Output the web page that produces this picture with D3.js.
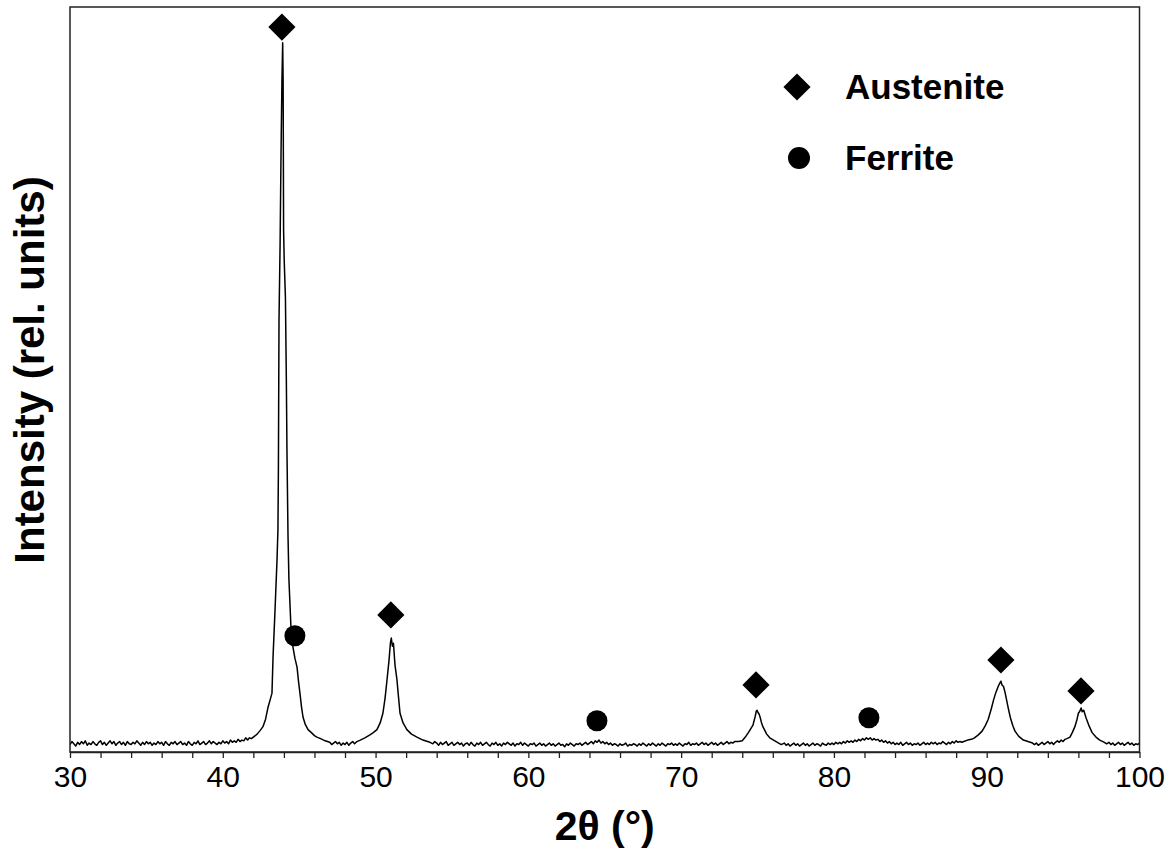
<!DOCTYPE html>
<html>
<head>
<meta charset="utf-8">
<script src="https://cdn.jsdelivr.net/npm/d3@7"></script>
<style>
	body { margin: 0; background: #fff; }
	svg { display: block; font-family: "Liberation Sans", Arial, sans-serif; }
</style>
</head>
<body>
<script>
// XRD scan: [2theta (deg), intensity (rel. units)]
var scan = [
	[30.0,1.0],[30.125,1.4],[30.25,1.1],[30.375,0.8],[30.5,1.3],[30.625,1.0],[30.75,1.4],[30.875,1.1],
	[31.0,1.5],[31.125,0.9],[31.25,1.2],[31.375,1.0],[31.5,1.4],[31.625,1.1],[31.75,0.9],[31.875,1.3],
	[32.0,1.5],[32.125,1.0],[32.25,1.3],[32.375,0.9],[32.5,1.2],[32.625,1.5],[32.75,1.1],[32.875,1.4],
	[33.0,0.9],[33.125,1.2],[33.25,1.4],[33.375,1.0],[33.5,1.3],[33.625,0.9],[33.75,1.4],[33.875,1.1],
	[34.0,1.0],[34.125,1.3],[34.25,1.1],[34.375,1.5],[34.5,1.2],[34.625,0.9],[34.75,1.3],[34.875,1.0],
	[35.0,1.4],[35.125,1.1],[35.25,1.3],[35.375,0.9],[35.5,1.2],[35.625,1.0],[35.75,1.4],[35.875,1.1],
	[36.0,1.3],[36.125,0.9],[36.25,1.4],[36.375,1.1],[36.5,0.9],[36.625,1.3],[36.75,1.1],[36.875,1.4],
	[37.0,1.0],[37.125,1.2],[37.25,1.4],[37.375,1.0],[37.5,1.2],[37.625,0.9],[37.75,1.4],[37.875,1.1],
	[38.0,0.9],[38.125,1.3],[38.25,1.1],[38.375,1.5],[38.5,1.0],[38.625,1.2],[38.75,1.4],[38.875,1.0],
	[39.0,1.2],[39.125,1.5],[39.25,1.1],[39.375,1.4],[39.5,1.2],[39.625,1.0],[39.75,1.3],[39.875,1.1],
	[40.0,1.5],[40.125,1.2],[40.25,1.4],[40.375,1.1],[40.5,1.6],[40.625,1.3],[40.75,1.5],[40.875,1.3],
	[41.0,1.7],[41.125,1.4],[41.25,1.6],[41.375,1.5],[41.5,1.9],[41.625,1.6],[41.75,1.9],[41.875,1.8],
	[42.0,2.0],[42.25,2.4],[42.45,2.9],[42.63,3.4],[42.8,4.4],[42.96,6.0],[43.1,7.0],[43.22,7.9],
	[43.29,12.8],[43.42,19.1],[43.55,25.8],[43.61,29.8],[43.64,38.0],[43.68,58.0],[43.75,68.0],
	[43.81,80.0],[43.87,90.0],[43.92,95.2],[43.95,90.0],[43.98,70.0],[44.02,66.0],[44.1,61.0],
	[44.16,50.0],[44.2,40.5],[44.27,28.9],[44.33,23.1],[44.46,16.8],[44.59,14.1],[44.72,12.6],
	[44.86,11.4],[44.95,9.6],[45.05,7.9],[45.15,6.1],[45.25,4.7],[45.4,3.7],[45.58,3.0],[45.8,2.6],
	[46.0,2.2],[46.16,2.0],[46.4,1.8],[46.7,1.5],
	[47.0,1.3],[47.125,1.0],[47.25,1.2],[47.375,1.4],[47.5,1.1],[47.625,1.3],[47.75,0.9],[47.875,1.2],
	[48.0,1.0],[48.125,1.3],[48.25,0.9],[48.375,1.2],[48.5,1.4],[48.625,1.1],[48.78,1.4],[49.0,1.6],
	[49.3,1.9],[49.63,2.3],[49.85,2.6],[50.09,3.0],[50.3,3.9],[50.48,5.2],[50.62,7.2],[50.75,9.7],
	[50.88,12.3],[50.97,14.6],[51.03,15.3],[51.1,14.2],[51.17,14.6],[51.27,11.7],[51.4,9.7],
	[51.5,7.4],[51.6,5.2],[51.8,3.9],[52.05,3.0],[52.35,2.4],[52.71,2.0],[53.1,1.6],[53.56,1.3],
	[53.75,1.1],[53.875,1.4],[54.0,1.2],[54.125,0.9],[54.25,1.3],[54.375,1.0],[54.5,1.2],[54.625,1.4],
	[54.75,0.9],[54.875,1.1],[55.0,1.3],[55.125,0.9],[55.25,1.1],[55.375,1.3],[55.5,1.0],[55.625,1.2],
	[55.75,0.8],[55.875,1.1],[56.0,1.2],[56.125,0.9],[56.25,1.3],[56.375,1.0],[56.5,0.8],[56.625,1.2],
	[56.75,1.0],[56.875,1.3],[57.0,0.9],[57.125,1.1],[57.25,1.3],[57.375,1.0],[57.5,0.8],[57.625,1.2],
	[57.75,1.0],[57.875,1.3],[58.0,0.9],[58.125,1.1],[58.25,0.8],[58.375,1.2],[58.5,1.0],[58.625,1.3],
	[58.75,1.1],[58.875,0.9],[59.0,1.2],[59.125,0.8],[59.25,1.1],[59.375,1.0],[59.5,1.3],[59.625,0.9],
	[59.75,1.2],[59.875,1.0],[60.0,0.8],[60.125,1.1],[60.25,1.0],[60.375,1.2],[60.5,0.8],[60.625,1.0],
	[60.75,1.2],[60.875,0.9],[61.0,1.1],[61.125,0.8],[61.25,1.0],[61.375,1.2],[61.5,0.9],[61.625,1.1],
	[61.75,0.8],[61.875,1.0],[62.0,1.2],[62.125,0.9],[62.25,1.0],[62.375,0.7],[62.5,1.1],[62.625,0.9],
	[62.75,1.2],[62.875,1.0],[63.0,0.8],[63.125,1.1],[63.25,1.0],[63.375,1.2],[63.5,0.9],[63.625,1.1],
	[63.75,1.3],[63.875,1.0],[64.0,1.2],[64.125,1.4],[64.25,1.1],[64.375,1.5],[64.5,1.3],[64.625,1.6],
	[64.75,1.2],[64.875,1.4],[65.0,1.1],[65.125,1.3],[65.25,1.0],[65.375,1.2],[65.5,0.9],[65.625,1.1],
	[65.75,1.0],[65.875,0.8],[66.0,1.1],[66.125,0.9],[66.25,1.0],[66.375,1.2],[66.5,0.8],[66.625,1.0],
	[66.75,0.9],[66.875,1.1],[67.0,1.0],[67.125,0.8],[67.25,1.1],[67.375,0.9],[67.5,1.2],[67.625,1.0],
	[67.75,0.8],[67.875,1.1],[68.0,0.9],[68.125,1.2],[68.25,1.0],[68.375,0.8],[68.5,1.1],[68.625,0.9],
	[68.75,1.2],[68.875,1.0],[69.0,0.8],[69.125,1.1],[69.25,1.0],[69.375,1.2],[69.5,0.9],[69.625,1.1],
	[69.75,0.9],[69.875,1.2],[70.0,1.0],[70.125,0.8],[70.25,1.1],[70.375,1.0],[70.5,1.3],[70.625,0.9],
	[70.75,1.1],[70.875,1.0],[71.0,1.2],[71.125,0.9],[71.25,1.1],[71.375,1.3],[71.5,1.0],[71.625,1.2],
	[71.75,0.9],[71.875,1.1],[72.0,1.3],[72.125,1.0],[72.25,1.2],[72.375,0.9],[72.5,1.1],[72.625,1.3],
	[72.75,1.0],[72.875,1.2],[73.0,1.4],[73.125,1.1],[73.25,1.3],[73.375,1.2],[73.5,1.4],
	[73.75,1.4],[74.0,1.5],[74.2,2.0],[74.4,2.6],[74.55,3.1],[74.7,3.6],[74.85,4.8],[74.92,5.5],
	[74.97,5.6],[75.03,5.3],[75.1,5.1],[75.18,4.6],[75.25,4.0],[75.35,3.4],[75.45,3.0],[75.6,2.4],
	[75.8,1.9],[76.05,1.6],[76.3,1.3],[76.55,1.0],
	[76.75,1.2],[76.875,0.9],[77.0,1.1],[77.125,0.8],[77.25,1.0],[77.375,1.2],[77.5,0.9],[77.625,1.1],
	[77.75,0.8],[77.875,1.0],[78.0,1.2],[78.125,0.9],[78.25,1.1],[78.375,0.8],[78.5,1.0],[78.625,1.2],
	[78.75,0.9],[78.875,1.1],[79.0,1.0],[79.125,0.8],[79.25,1.2],[79.375,1.0],[79.5,0.9],[79.625,1.2],
	[79.75,1.0],[79.875,1.2],[80.0,1.0],[80.125,1.3],[80.25,1.1],[80.375,1.3],[80.5,1.1],[80.625,1.4],
	[80.75,1.2],[80.875,1.5],[81.0,1.3],[81.125,1.5],[81.25,1.3],[81.375,1.6],[81.5,1.4],[81.625,1.7],
	[81.75,1.5],[81.875,1.8],[82.0,1.6],[82.125,1.9],[82.25,1.7],[82.375,1.9],[82.5,1.6],[82.625,1.8],
	[82.75,1.6],[82.875,1.7],[83.0,1.4],[83.125,1.6],[83.25,1.3],[83.375,1.5],[83.5,1.2],[83.625,1.4],
	[83.75,1.1],[83.875,1.3],[84.0,1.0],[84.125,1.2],[84.25,1.0],[84.375,1.3],[84.5,0.9],[84.625,1.1],
	[84.75,1.3],[84.875,1.0],[85.0,1.2],[85.125,0.9],[85.25,1.1],[85.375,1.0],[85.5,1.2],[85.625,0.9],
	[85.75,1.1],[85.875,1.3],[86.0,1.0],[86.125,1.2],[86.25,1.0],[86.375,1.3],[86.5,1.1],[86.625,1.3],
	[86.75,1.0],[86.875,1.2],[87.0,1.1],[87.125,1.4],[87.25,1.2],[87.375,1.0],[87.5,1.3],[87.625,1.1],
	[87.75,1.4],[87.875,1.2],[88.0,1.5],[88.125,1.3],[88.25,1.4],[88.375,1.3],
	[88.5,1.4],[88.75,1.6],[89.0,1.7],[89.2,1.9],[89.45,2.3],[89.7,2.8],[89.9,3.5],[90.1,4.4],
	[90.3,5.8],[90.45,7.0],[90.6,8.0],[90.75,8.8],[90.85,9.2],[90.93,9.5],[91.0,9.0],[91.1,8.8],
	[91.2,8.0],[91.3,7.0],[91.42,5.8],[91.55,4.6],[91.7,3.6],[91.85,2.8],[92.1,2.1],[92.4,1.6],
	[92.7,1.4],
	[93.0,1.2],[93.125,1.0],[93.25,1.2],[93.375,0.9],[93.5,1.1],[93.625,1.3],[93.75,1.0],[93.875,1.2],
	[94.0,1.4],[94.125,1.1],[94.25,1.3],[94.375,1.0],[94.5,1.3],[94.625,1.5],[94.75,1.3],[94.875,1.6],
	[95.0,1.4],[95.125,1.7],[95.25,1.8],
	[95.45,2.0],[95.6,2.6],[95.77,3.4],[95.9,4.3],[96.0,5.2],[96.1,5.5],[96.18,5.9],
	[96.25,5.4],[96.35,5.6],[96.5,4.6],[96.7,3.5],[96.9,2.6],[97.15,2.0],[97.4,1.6],[97.7,1.3],
	[97.85,1.1],[98.0,1.3],[98.125,1.0],[98.25,1.2],[98.375,0.9],[98.5,1.1],[98.625,1.3],[98.75,1.0],
	[98.875,1.2],[99.0,0.9],[99.125,1.1],[99.25,1.3],[99.375,1.0],[99.5,1.2],[99.625,0.9],[99.75,1.1],
	[99.875,1.0],[100.0,1.2]
];

// phase markers: [2theta, marker height]
var austenitePeaks = [[43.87, 97.3], [51.0, 18.4], [74.9, 9.0], [90.93, 12.35], [96.17, 8.2]];
var ferritePeaks = [[44.72, 15.6], [64.49, 4.2], [82.29, 4.6]];

var xTickValues = [30, 32, 34, 36, 38, 40, 42, 44, 46, 48, 50, 52, 54, 56, 58, 60, 62, 64, 66, 68,
	70, 72, 74, 76, 78, 80, 82, 84, 86, 88, 90, 92, 94, 96, 98, 100];
var xTickLabels = [30, 40, 50, 60, 70, 80, 90, 100];
var legendItems = ['Austenite', 'Ferrite'];

var width = 1172, height = 852;
var margin = { top: 7, right: 32.5, bottom: 100, left: 70 };
var plotW = width - margin.left - margin.right;
var plotH = height - margin.top - margin.bottom;

var svg = d3.select('body')
	.append('svg')
	.attr('width', width)
	.attr('height', height);

var x = d3.scaleLinear().domain([30, 100]).range([margin.left, margin.left + plotW]);
var y = d3.scaleLinear().domain([0, 100]).range([margin.top + plotH, margin.top]);

svg.append('clipPath')
	.attr('id', 'plotclip')
	.append('rect')
	.attr('x', margin.left)
	.attr('y', margin.top)
	.attr('width', plotW)
	.attr('height', plotH);

// pattern line
var line = d3.line()
	.x(function(d) { return x(d[0]); })
	.y(function(d) { return y(d[1]); });

svg.append('path')
	.datum(scan)
	.attr('clip-path', 'url(#plotclip)')
	.attr('fill', 'none')
	.attr('stroke', '#000')
	.attr('stroke-width', 1.5)
	.attr('stroke-linejoin', 'round')
	.attr('d', line);

// frame
svg.append('rect')
	.attr('x', margin.left)
	.attr('y', margin.top)
	.attr('width', plotW)
	.attr('height', plotH)
	.attr('fill', 'none')
	.attr('stroke', '#222')
	.attr('stroke-width', 1.5);

// bottom axis
var xAxis = d3.axisBottom(x)
	.tickValues(xTickValues)
	.tickSize(6)
	.tickSizeOuter(0)
	.tickPadding(8)
	.tickFormat(function(d) {
		return xTickLabels.indexOf(d) >= 0 ? d : '';
	});

var gx = svg.append('g')
	.attr('transform', 'translate(0,' + (margin.top + plotH) + ')')
	.call(xAxis);

gx.select('.domain').attr('stroke', '#222').attr('stroke-width', 1.5);
gx.selectAll('.tick line').attr('stroke', '#222').attr('stroke-width', 1.3);
gx.selectAll('.tick text')
	.attr('font-family', '"Liberation Sans", Arial, sans-serif')
	.attr('font-size', 30)
	.attr('fill', '#000');

// axis titles
svg.append('text')
	.attr('x', margin.left + plotW / 2)
	.attr('y', 840)
	.attr('text-anchor', 'middle')
	.attr('font-size', 41)
	.attr('font-weight', 'bold')
	.text('2\u03b8 (\u00b0)');

svg.append('text')
	.attr('transform', 'translate(44,370) rotate(-90)')
	.attr('text-anchor', 'middle')
	.attr('font-size', 42)
	.attr('font-weight', 'bold')
	.text('Intensity (rel. units)');

// phase markers
var diamond = d3.symbol().type(d3.symbolSquare).size(370);

svg.selectAll('.austenite')
	.data(austenitePeaks)
	.enter()
	.append('path')
	.attr('class', 'austenite')
	.attr('d', diamond)
	.attr('transform', function(d) {
		return 'translate(' + x(d[0]) + ',' + y(d[1]) + ') rotate(45)';
	})
	.attr('fill', '#000');

svg.selectAll('.ferrite')
	.data(ferritePeaks)
	.enter()
	.append('circle')
	.attr('class', 'ferrite')
	.attr('cx', function(d) { return x(d[0]); })
	.attr('cy', function(d) { return y(d[1]); })
	.attr('r', 10.5)
	.attr('fill', '#000');

// legend
var legend = svg.append('g').attr('transform', 'translate(797,87)');

legend.append('path')
	.attr('d', diamond)
	.attr('transform', 'rotate(45)')
	.attr('fill', '#000');

legend.append('circle')
	.attr('cx', 2)
	.attr('cy', 71)
	.attr('r', 11)
	.attr('fill', '#000');

legend.selectAll('text')
	.data(legendItems)
	.enter()
	.append('text')
	.attr('x', 48)
	.attr('y', function(d, i) { return 12 + i * 71; })
	.attr('font-size', 35)
	.attr('font-weight', 'bold')
	.text(function(d) { return d; });
</script>
</body>
</html>
